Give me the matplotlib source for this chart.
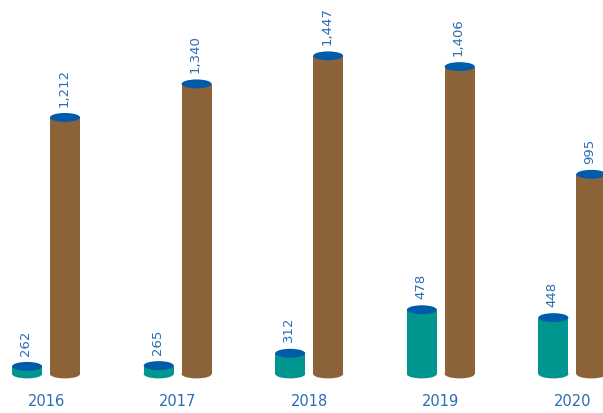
import matplotlib
matplotlib.use('Agg')
import matplotlib.pyplot as plt
from matplotlib.patches import Rectangle, Ellipse

# data
years = ['2016', '2017', '2018', '2019', '2020']
teal_vals = [262, 265, 312, 478, 448]
brown_vals = [1212, 1340, 1447, 1406, 995]

TEAL = '#00968f'
BROWN = '#8c6239'
TOP = '#005baa'
TXT = '#2a6db3'

base = 233      # axis does not start at zero
w = 0.228       # bar width in group units
off = 0.144     # bar offset from group centre
eh = 34         # ellipse height in value units

fig = plt.figure(figsize=(6.03, 4.14), dpi=100)
ax = fig.add_axes([0, 0, 1, 1])
ax.set_xlim(-0.35, 4.233)
ax.set_ylim(84, 1664)
ax.axis('off')

def cylinder(x, v, color):
    ax.add_patch(Ellipse((x, base), w, eh, color=color, lw=0))
    ax.add_patch(Rectangle((x - w/2, base), w, v - base, color=color, lw=0))
    ax.add_patch(Ellipse((x, v), w, eh, color=TOP, lw=0))
    ax.text(x - 0.01, v + eh/2 + 28, format(v, ','), rotation=90,
            ha='center', va='bottom', color=TXT, fontsize=9.5)

for i, yr in enumerate(years):
    cylinder(i - off, teal_vals[i], TEAL)
    cylinder(i + off, brown_vals[i], BROWN)
    ax.text(i, 130, yr, ha='center', va='center', color=TXT, fontsize=10.5)

fig.savefig('out.png', dpi=100)
